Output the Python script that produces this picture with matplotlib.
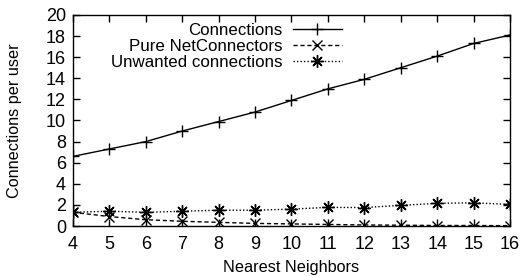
import matplotlib
matplotlib.use("Agg")
import matplotlib.pyplot as plt

plt.rcParams['font.family'] = ['Liberation Sans', 'DejaVu Sans']

neighbors = [4, 5, 6, 7, 8, 9, 10, 11, 12, 13, 14, 15, 16]
connections = [6.6, 7.3, 8.0, 9.0, 9.9, 10.8, 11.9, 13.0, 13.9, 15.0, 16.1, 17.3, 18.1]
pure_netconnectors = [1.3, 0.9, 0.6, 0.45, 0.35, 0.25, 0.2, 0.15, 0.1, 0.08, 0.05, 0.05, 0.03]
unwanted = [1.3, 1.4, 1.3, 1.4, 1.5, 1.5, 1.6, 1.77, 1.75, 1.96, 2.15, 2.2, 2.05]

fig = plt.figure(figsize=(5.21, 2.77), dpi=100)
ax = fig.add_axes([0.140, 0.184, 0.839, 0.762])

ax.plot(neighbors, connections, color="black", lw=1, ls="-",
        marker="+", ms=9, mew=1, label="Connections")
ax.plot(neighbors, pure_netconnectors, color="black", lw=1, ls=(0, (3, 2)),
        marker="x", ms=7, mew=1, label="Pure NetConnectors")
ax.plot(neighbors, unwanted, color="black", lw=1, ls=(0, (1, 1.5)),
        marker=(8, 2, 0), ms=9, mew=1, label="Unwanted connections")

ax.set_xlim(4, 16)
ax.set_ylim(0, 20)
ax.set_xticks(neighbors)
ax.set_yticks(range(0, 21, 2))
ax.tick_params(direction="in", top=True, right=True, labelsize=13, length=5, width=1)
ax.tick_params(axis="x", pad=7)
ax.tick_params(axis="y", pad=5)
for s in ax.spines.values():
    s.set_linewidth(1)

ax.set_xlabel("Nearest Neighbors", fontsize=11.7, labelpad=5)
ax.set_ylabel("Connections per user", fontsize=11.7, labelpad=17)

leg = ax.legend(loc="upper right", bbox_to_anchor=(0.615, 0.96), frameon=False,
                markerfirst=False, fontsize=12.2, handlelength=2.9,
                labelspacing=0.05, borderaxespad=0, borderpad=0, handletextpad=0.6)

fig.savefig("out.png", dpi=100)
